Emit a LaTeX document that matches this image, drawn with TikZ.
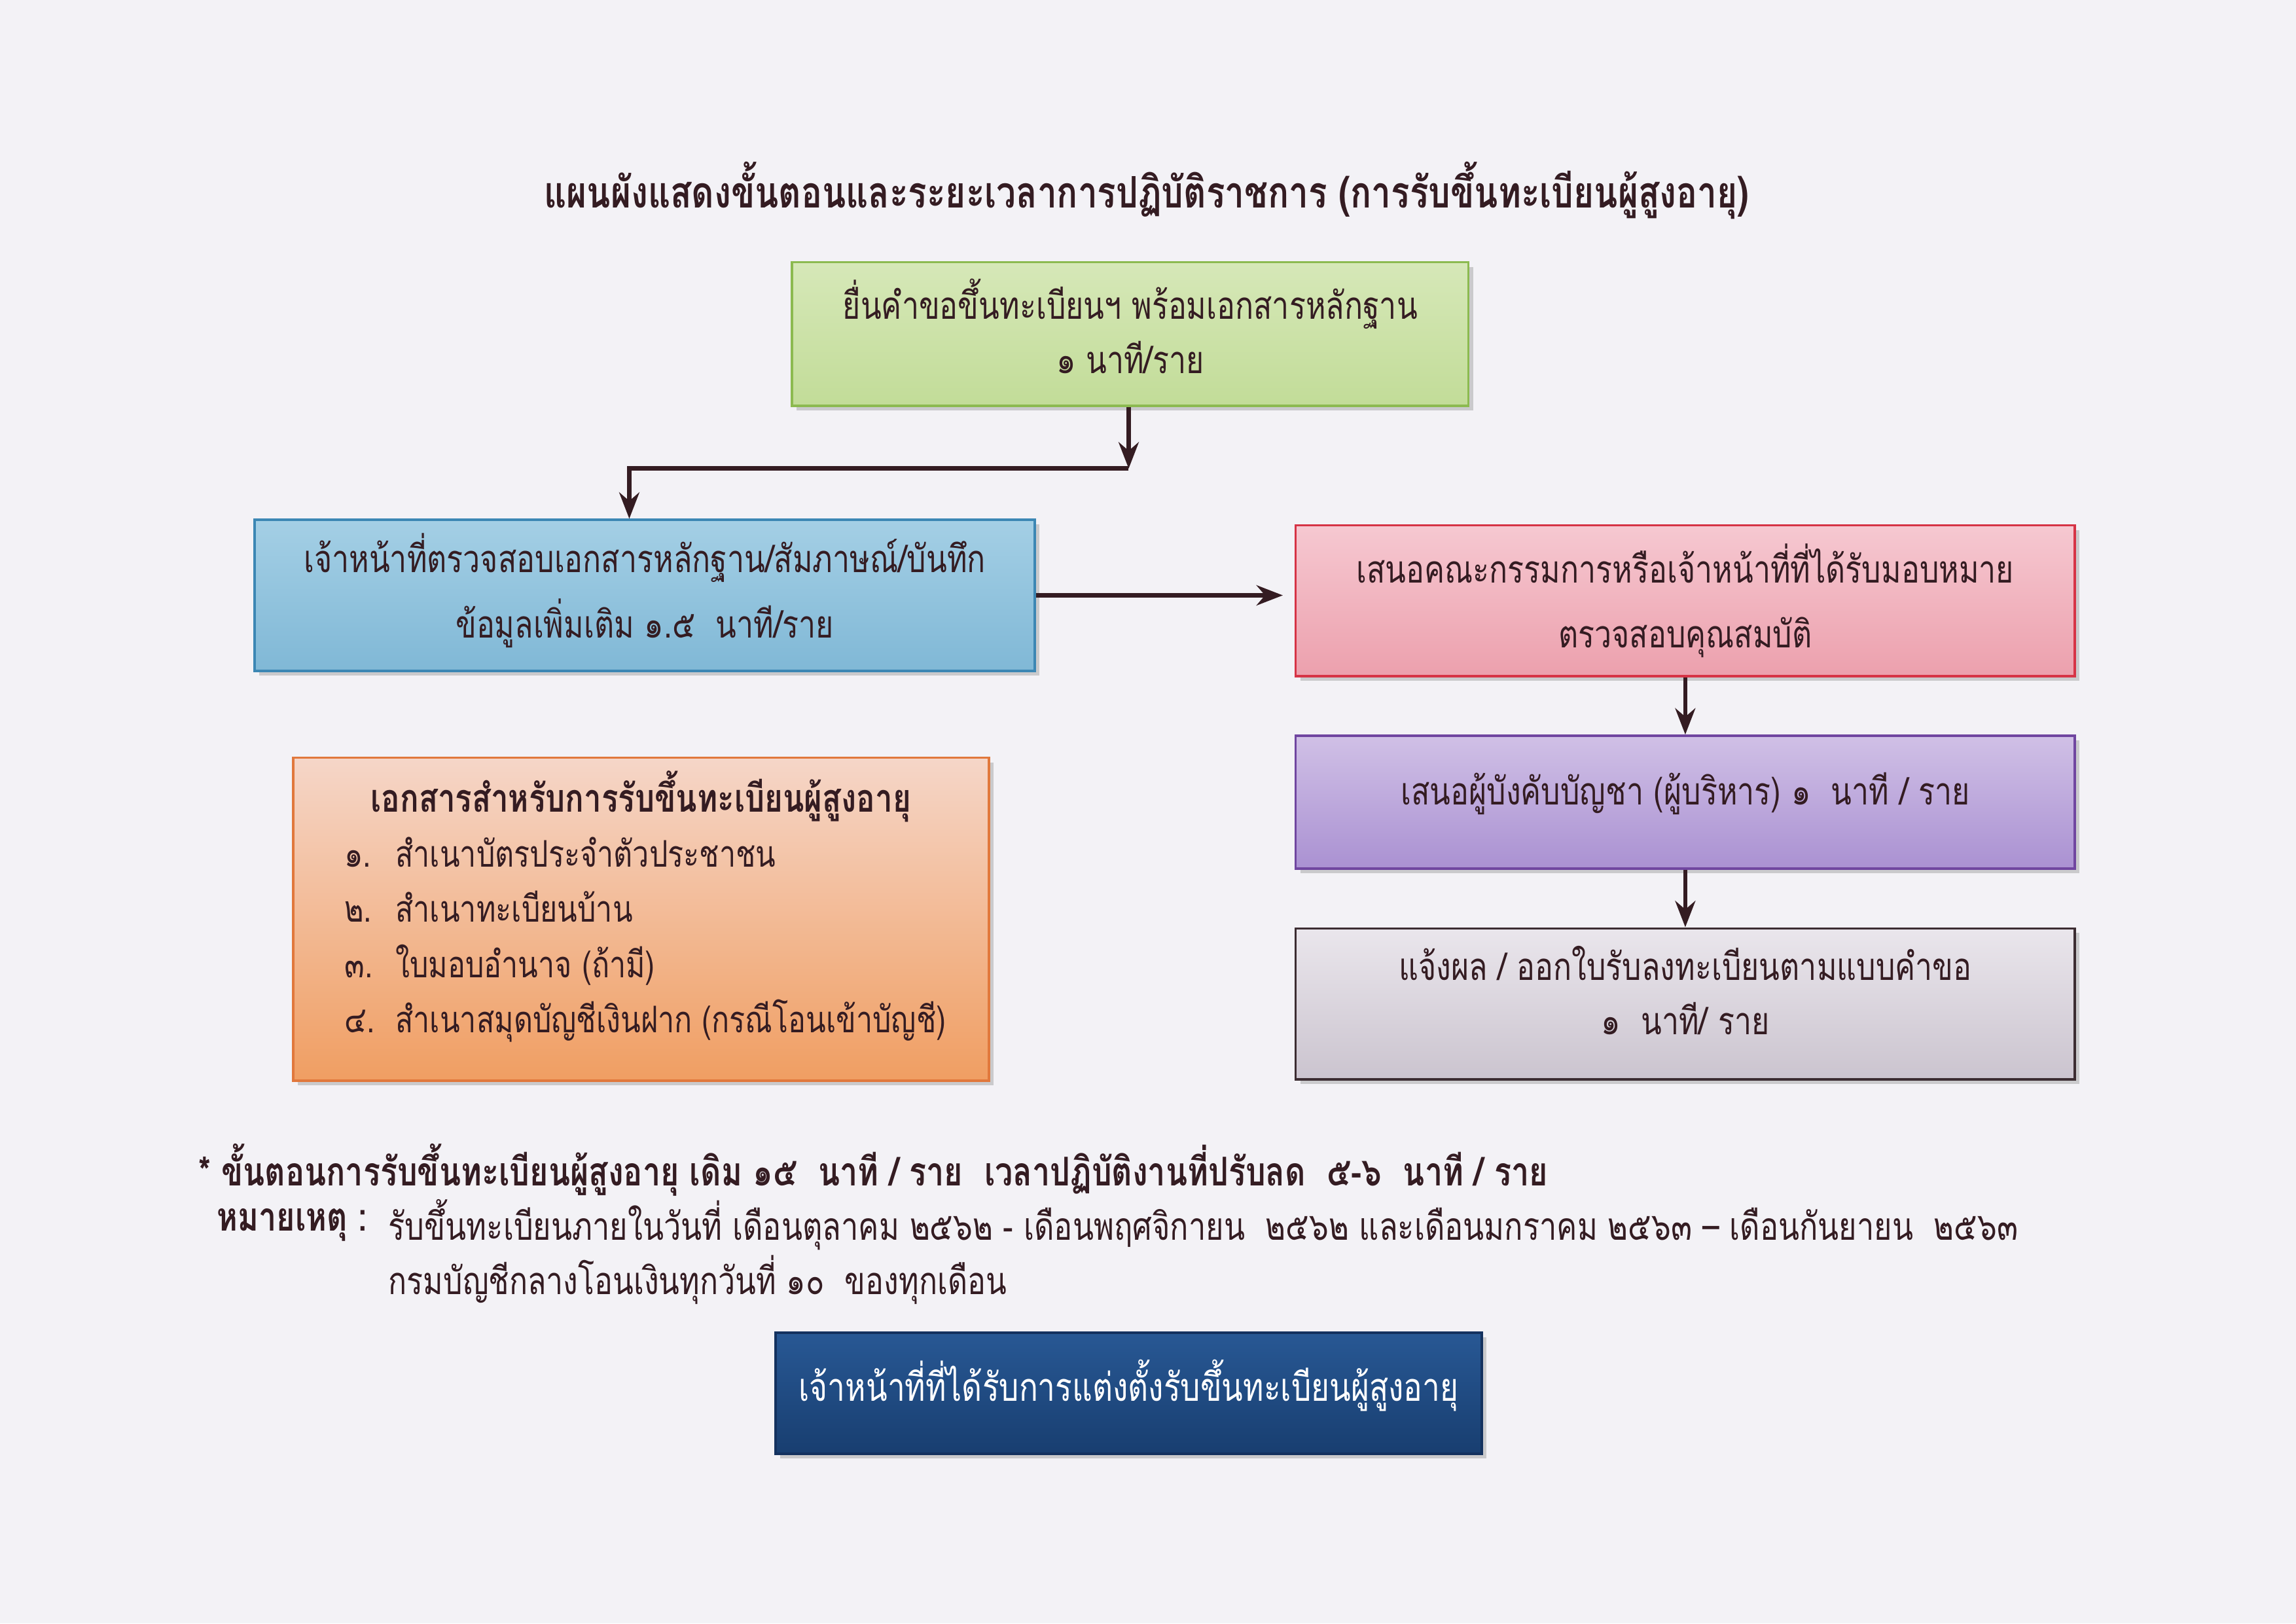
\documentclass[tikz,border=0pt]{standalone}
\usepackage{fontspec}
\setmainfont{Loma}[Script=Thai, FakeStretch=0.8]
\usetikzlibrary{positioning, arrows.meta, shadows}

\definecolor{ink}{RGB}{52,28,34}
\definecolor{paper}{RGB}{243,242,246}
\definecolor{greenA}{RGB}{214,232,184}
\definecolor{greenB}{RGB}{194,220,152}
\definecolor{greenL}{RGB}{140,186,80}
\definecolor{blueA}{RGB}{164,207,229}
\definecolor{blueB}{RGB}{128,184,214}
\definecolor{blueL}{RGB}{60,135,180}
\definecolor{pinkA}{RGB}{246,200,209}
\definecolor{pinkB}{RGB}{236,160,173}
\definecolor{pinkL}{RGB}{214,52,70}
\definecolor{lilaA}{RGB}{208,192,230}
\definecolor{lilaB}{RGB}{170,145,210}
\definecolor{lilaL}{RGB}{112,70,160}
\definecolor{greyA}{RGB}{234,230,236}
\definecolor{greyB}{RGB}{203,196,207}
\definecolor{greyL}{RGB}{60,45,50}
\definecolor{orA}{RGB}{245,214,200}
\definecolor{orB}{RGB}{240,158,98}
\definecolor{orL}{RGB}{225,120,60}
\definecolor{navyA}{RGB}{40,88,148}
\definecolor{navyB}{RGB}{24,62,112}
\definecolor{navyL}{RGB}{20,50,95}

\begin{document}
\begin{tikzpicture}[
    node distance={7.4mm},
    etape/.style = {draw, line width=0.9pt, rectangle,
        minimum width=10.08cm, minimum height=1.95cm, inner sep=0pt,
        drop shadow={opacity=0.35, shadow xshift=0.6mm, shadow yshift=-0.6mm}},
    txt/.style = {align=center, text=ink, inner sep=0pt, font=\fontsize{14}{24}\selectfont},
    fleche/.style = {-{Stealth[length=3.4mm, width=2.6mm]}, line width=1.6pt, draw=ink},
    note/.style = {anchor=west, text=ink, inner sep=0pt, font=\fontsize{14}{16}\selectfont}
]
    % --- Fond de page ---
    \fill[paper] (0,0) rectangle (29.7,-21.0);
    \useasboundingbox (0,0) rectangle (29.7,-21.0);

    % --- Titre ---
    \node[text=ink, font=\bfseries\fontsize{16}{20}\selectfont] (T) at (14.83,-2.46)
        {แผนผังแสดงขั้นตอนและระยะเวลาการปฏิบัติราชการ (การรับขึ้นทะเบียนผู้สูงอายุ)};

    % --- Colonne de gauche ---
    \node[etape, top color=greenA, bottom color=greenB, draw=greenL,
        minimum width=8.75cm, minimum height=1.86cm] (Req) at (14.62,-4.32) {};
    \node[txt, font=\fontsize{14}{20}\selectfont, yshift=1mm] (ReqT) at (Req)
        {ยื่นคำขอขึ้นทะเบียนฯ พร้อมเอกสารหลักฐาน\\๑ นาที/ราย};
    \node[etape, top color=blueA, bottom color=blueB, draw=blueL, minimum width=10.09cm]
        (Chk) at (8.34,-7.70) {};
    \node[txt, yshift=0.6mm] (ChkT) at (Chk)
        {เจ้าหน้าที่ตรวจสอบเอกสารหลักฐาน/สัมภาษณ์/บันทึก\\ข้อมูลเพิ่มเติม ๑.๕~ นาที/ราย};

    % --- Colonne de droite ---
    \node[etape, top color=pinkA, bottom color=pinkB, draw=pinkL] (Cte) at (21.80,-7.77) {};
    \node[txt] (CteT) at (Cte) {เสนอคณะกรรมการหรือเจ้าหน้าที่ที่ได้รับมอบหมาย\\ตรวจสอบคุณสมบัติ};
    \node[etape, top color=lilaA, bottom color=lilaB, draw=lilaL, minimum height=1.72cm]
        (Exe) [below=of Cte] {};
    \node[txt, yshift=1.1mm] (ExeT) at (Exe) {เสนอผู้บังคับบัญชา (ผู้บริหาร) ๑~ นาที / ราย};
    \node[etape, top color=greyA, bottom color=greyB, draw=greyL] (Res) [below=of Exe] {};
    \node[txt, font=\fontsize{14}{20}\selectfont, yshift=1.7mm] (ResT) at (Res)
        {แจ้งผล / ออกใบรับลงทะเบียนตามแบบคำขอ\\๑~ นาที/ ราย};

    % --- Liste des documents ---
    \node[etape, top color=orA, bottom color=orB, draw=orL,
        minimum width=9.00cm, minimum height=4.18cm] (Doc) at (8.29,-11.89) {};
    \node[txt, font=\bfseries\fontsize{14.3}{20}\selectfont] (DocT) at (8.29,-10.30)
        {เอกสารสำหรับการรับขึ้นทะเบียนผู้สูงอายุ};
    \node[txt, anchor=north west, align=left, font=\fontsize{13.5}{20.3}\selectfont]
        (DocL) at (4.45,-10.82)
        {\makebox[0.66cm][l]{๑.}สำเนาบัตรประจำตัวประชาชน\\
         \makebox[0.66cm][l]{๒.}สำเนาทะเบียนบ้าน\\
         \makebox[0.66cm][l]{๓.}ใบมอบอำนาจ (ถ้ามี)\\
         \makebox[0.66cm][l]{๔.}สำเนาสมุดบัญชีเงินฝาก (กรณีโอนเข้าบัญชี)};

    % --- Liaisons ---
    \coordinate (J1) at (14.60,-6.06);
    \coordinate (J2) at (8.14,-6.06);
    \draw[fleche] (Req.south -| J1) -- (J1);
    \draw[fleche] (J1) -- (J2) -- (J2 |- Chk.north);
    \draw[fleche, shorten >=1.5mm] (Chk.east) -- (Chk.east -| Cte.west);
    \draw[fleche] (Cte.south) -- (Exe.north);
    \draw[fleche] (Exe.south) -- (Res.north);

    % --- Remarques ---
    \node[note, font=\bfseries\fontsize{14.6}{16}\selectfont] (N1) at (2.56,-15.13)
        {* ขั้นตอนการรับขึ้นทะเบียนผู้สูงอายุ เดิม ๑๕~ นาที / ราย~ เวลาปฏิบัติงานที่ปรับลด~ ๕-๖~ นาที / ราย};
    \node[note, font=\bfseries\fontsize{14.6}{16}\selectfont] (N2) at (2.80,-15.84) {หมายเหตุ :};
    \node[note, font=\fontsize{14.13}{16}\selectfont] (N3) at (5.02,-15.84)
        {รับขึ้นทะเบียนภายในวันที่ เดือนตุลาคม ๒๕๖๒ - เดือนพฤศจิกายน~ ๒๕๖๒ และเดือนมกราคม ๒๕๖๓ – เดือนกันยายน~ ๒๕๖๓};
    \node[note] (N4) at (5.02,-16.55) {กรมบัญชีกลางโอนเงินทุกวันที่ ๑๐~ ของทุกเดือน};

    % --- Responsable ---
    \node[etape, top color=navyA, bottom color=navyB, draw=navyL,
        minimum width=9.13cm, minimum height=1.57cm] (Staff) at (14.60,-18.02) {};
    \node[txt, text=white, font=\fontsize{14.4}{20}\selectfont, yshift=1mm] (StaffT) at (Staff)
        {เจ้าหน้าที่ที่ได้รับการแต่งตั้งรับขึ้นทะเบียนผู้สูงอายุ};
\end{tikzpicture}
\end{document}
